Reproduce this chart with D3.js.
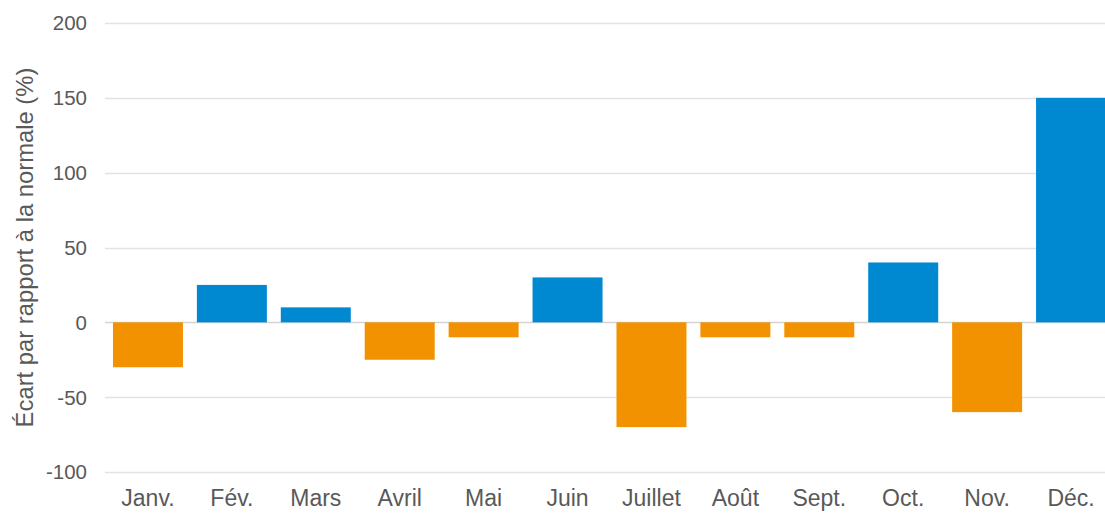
<!DOCTYPE html>
<html>
<head>
<meta charset="utf-8">
<script src="https://cdn.jsdelivr.net/npm/d3@7"></script>
<style>
  body { margin: 0; background: #fff; }
  text { font-family: "Liberation Sans", Arial, sans-serif; fill: #595959; }
</style>
</head>
<body>
<div id="chart"></div>
<script>
// monthly values, deviation from normal (%)
const months = ["Janv.", "Fév.", "Mars", "Avril", "Mai", "Juin", "Juillet", "Août", "Sept.", "Oct.", "Nov.", "Déc."];
const ecart = [-30, 25, 10, -25, -10, 30, -70, -10, -10, 40, -60, 150];
const yTicks = [-100, -50, 0, 50, 100, 150, 200];

const width = 1105, height = 513;

const svg = d3.select("#chart").append("svg")
  .attr("width", width)
  .attr("height", height);

const x = d3.scaleBand()
  .domain(months)
  .range([106, 1113])
  .paddingInner(0.166)
  .paddingOuter(0.083);

const y = d3.scaleLinear()
  .domain([-100, 200])
  .range([472, 23]);

// gridlines
svg.append("g")
  .selectAll("line")
  .data(yTicks)
  .join("line")
    .attr("x1", 105)
    .attr("x2", width)
    .attr("y1", d => Math.round(y(d)) + 0.5)
    .attr("y2", d => Math.round(y(d)) + 0.5)
    .attr("stroke", d => d === 0 ? "#d4d4d4" : "#e3e3e3")
    .attr("stroke-width", 1.3);

// y tick labels
svg.append("g")
  .selectAll("text")
  .data(yTicks)
  .join("text")
    .attr("x", 87)
    .attr("y", d => y(d))
    .attr("dy", "0.36em")
    .attr("text-anchor", "end")
    .style("font-size", "20.5px")
    .text(d => d);

// bars
svg.append("g")
  .selectAll("rect")
  .data(months)
  .join("rect")
    .attr("x", d => x(d))
    .attr("width", x.bandwidth())
    .attr("y", (d, i) => y(Math.max(0, ecart[i])))
    .attr("height", (d, i) => Math.abs(y(ecart[i]) - y(0)))
    .attr("fill", (d, i) => ecart[i] >= 0 ? "#0088d1" : "#f39200");

// x labels
svg.append("g")
  .selectAll("text")
  .data(months)
  .join("text")
    .attr("x", d => x(d) + x.bandwidth() / 2)
    .attr("y", 506)
    .attr("text-anchor", "middle")
    .style("font-size", "23px")
    .text(d => d);

// axis title
svg.append("text")
  .attr("transform", "translate(33," + y(50) + ") rotate(-90)")
  .attr("text-anchor", "middle")
  .style("font-size", "23.8px")
  .text("Écart par rapport à la normale (%)");
</script>
</body>
</html>
